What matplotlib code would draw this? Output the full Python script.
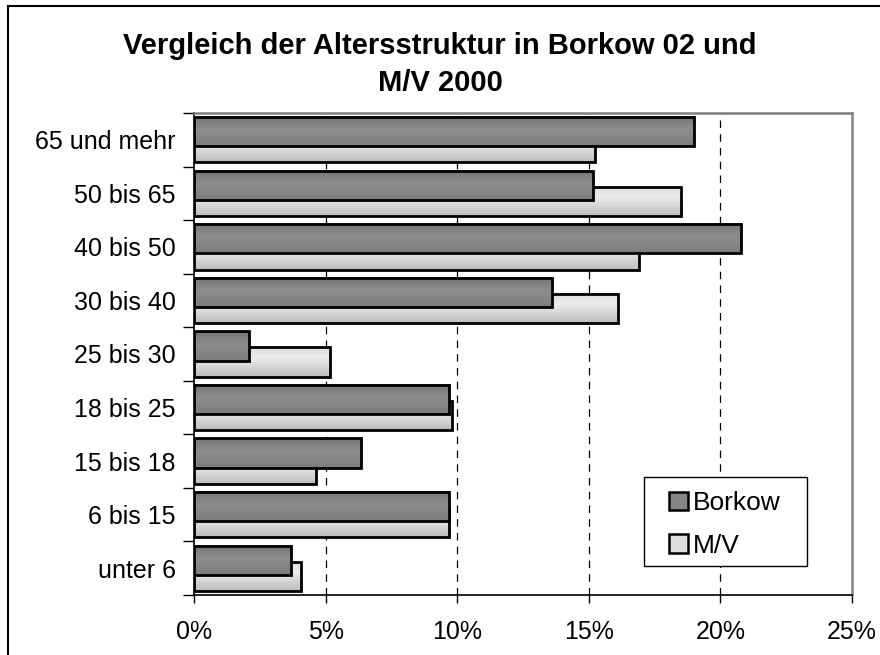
import matplotlib
matplotlib.use("Agg")
import matplotlib.pyplot as plt
import numpy as np
from matplotlib.colors import LinearSegmentedColormap
from matplotlib.patches import Patch, Rectangle
from matplotlib.lines import Line2D
from matplotlib.ticker import FuncFormatter, MultipleLocator

plt.rcParams['font.family'] = ['Liberation Sans', 'DejaVu Sans']

# age groups, top to bottom
categories = ["65 und mehr", "50 bis 65", "40 bis 50", "30 bis 40", "25 bis 30",
              "18 bis 25", "15 bis 18", "6 bis 15", "unter 6"]
# shares in percent
borkow = [19.0, 15.15, 20.8, 13.6, 2.1, 9.7, 6.35, 9.7, 3.7]
mv = [15.25, 18.5, 16.9, 16.1, 5.15, 9.8, 4.65, 9.7, 4.05]
series_names = ["Borkow", "M/V"]

bar_h = 0.545
shift = 0.15

fig = plt.figure(figsize=(8.8, 6.55), dpi=100)
ax = fig.add_axes([194 / 880, 1 - 595 / 655, 658 / 880, 482 / 655])

cmap_b = LinearSegmentedColormap.from_list("b", [(0, "#747474"), (0.45, "#8e8e8e"), (1, "#7c7c7c")])
cmap_m = LinearSegmentedColormap.from_list("m", [(0, "#dcdcdc"), (0.35, "#ededed"), (1, "#bdbdbd")])
grad = np.linspace(0, 1, 64).reshape(-1, 1)

y = np.arange(len(categories))


def gradient_bars(values, offset, cmap, z):
    bars = ax.barh(y + offset, values, height=bar_h, facecolor="none",
                   edgecolor="black", linewidth=2.0, zorder=z + 1)
    for b in bars:
        x0, y0 = b.get_x(), b.get_y()
        w, h = b.get_width(), b.get_height()
        # row 0 at y0, which is the visual top on the inverted axis
        ax.imshow(grad, extent=(x0, x0 + w, y0 + h, y0), origin="upper", cmap=cmap,
                  aspect="auto", interpolation="bilinear", zorder=z)
    return bars


gradient_bars(mv, shift, cmap_m, 2)
gradient_bars(borkow, -shift, cmap_b, 4)

ax.set_xlim(0, 25)
ax.set_ylim(len(categories) - 0.5, -0.5)

ax.xaxis.set_major_locator(MultipleLocator(5))
ax.xaxis.set_major_formatter(FuncFormatter(lambda v, p: f"{v:.0f}%"))
ax.tick_params(axis="x", length=6, width=1, pad=12, labelsize=18, direction="out")

ax.set_yticks(y)
ax.set_yticklabels(categories)
ax.set_yticks(np.arange(len(categories) + 1) - 0.5, minor=True)
ax.tick_params(axis="y", which="major", length=0, pad=13, labelsize=18)
ax.tick_params(axis="y", which="minor", length=8, width=1)

for v in [5, 10, 15, 20]:
    ax.axvline(v, color="black", linewidth=0.9, linestyle=(0, (6, 5)), zorder=1)

for s in ["top", "right"]:
    ax.spines[s].set_color("#808080")
    ax.spines[s].set_linewidth(1.8)
for s in ["left", "bottom"]:
    ax.spines[s].set_color("black")
    ax.spines[s].set_linewidth(1.2)

# legend box
ax.add_patch(Rectangle((0.684, 0.060), 0.248, 0.185, transform=ax.transAxes,
                       facecolor="white", edgecolor="black", linewidth=1, zorder=6))
handles = [Patch(facecolor="#858585", edgecolor="black", linewidth=1.8),
           Patch(facecolor="#dedede", edgecolor="black", linewidth=1.8)]
leg = ax.legend(handles, series_names, loc="center left", bbox_to_anchor=(0.722, 0.146),
                frameon=False, fontsize=19, handlelength=0.7, handleheight=0.7,
                handletextpad=0.22, labelspacing=0.7, borderpad=0, borderaxespad=0)
leg.set_zorder(7)

fig.text(0.5, 1 - 64.5 / 655, "Vergleich der Altersstruktur in Borkow 02 und\nM/V 2000",
         ha="center", va="center", fontsize=21, fontweight="bold", linespacing=1.38)

# outer chart border
fig.add_artist(Line2D([8 / 880, 1], [1 - 6 / 655, 1 - 6 / 655], transform=fig.transFigure,
                      color="black", linewidth=1.5))
fig.add_artist(Line2D([8 / 880, 8 / 880], [0, 1 - 6 / 655], transform=fig.transFigure,
                      color="black", linewidth=1.5))

fig.savefig("out.png", dpi=100)
